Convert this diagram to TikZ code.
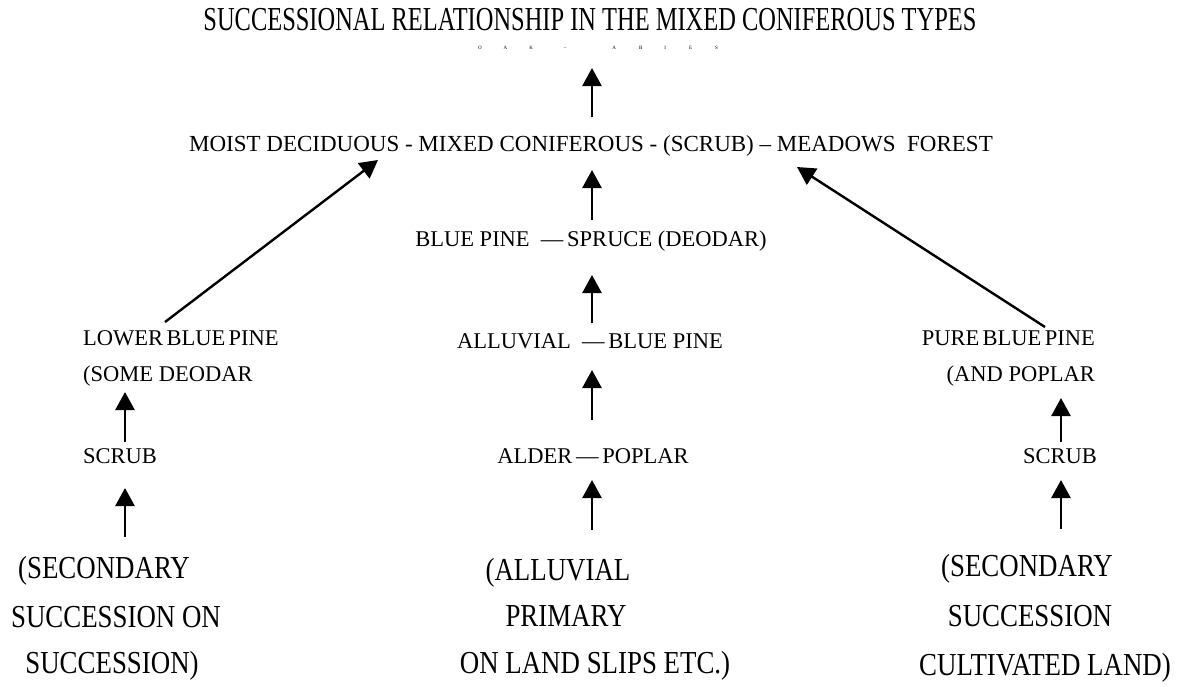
\documentclass[tikz,border=0pt]{standalone}
\usepackage{fontspec}
\setmainfont{Liberation Serif}
\newfontfamily\titlefont[FakeStretch=0.73]{Liberation Serif}
\newfontfamily\bigfont[FakeStretch=0.84]{Liberation Serif}
\usetikzlibrary{arrows.meta,calc}
\tikzset{
  lab/.style={inner sep=0pt, text height=0.66em, text depth=0pt, font=\fontsize{22.5}{24}\selectfont},
  mainlab/.style={lab, font=\fontsize{23}{25}\selectfont},
  big/.style={inner sep=0pt, text height=0.66em, text depth=0pt, font=\bigfont\fontsize{32}{34}\selectfont},
  ttl/.style={inner sep=0pt, text height=0.66em, text depth=0pt, font=\titlefont\fontsize{33.5}{35}\selectfont},
  tinylab/.style={inner sep=0pt, font=\fontsize{5}{6}\selectfont},
  arr/.style={line width=2.6pt, -{Triangle[length=18pt,width=19pt]}},
  darr/.style={line width=2.4pt, -{Triangle[length=18pt,width=19pt]}}
}
\begin{document}
\begin{tikzpicture}[x=1pt,y=-1pt]
\useasboundingbox[fill=white] (0,0) rectangle (1187,686);
% column coordinates
\coordinate (cl) at (125,0);
\coordinate (cc) at (592,0);
\coordinate (cr) at (1061,0);
% title
\node[ttl] (title) at (590,27) {SUCCESSIONAL RELATIONSHIP IN THE MIXED CONIFEROUS TYPES};
\node[tinylab] (sub) at (598,48) {O\hspace{22pt}A\hspace{22pt}K\hspace{31pt}–\hspace{46pt}A\hspace{23pt}B\hspace{22pt}I\hspace{23pt}E\hspace{23pt}S};
% central column
\node[mainlab] (main) at (591,148) {MOIST DECIDUOUS - MIXED CONIFEROUS - (SCRUB) – MEADOWS\ \ FOREST};
\node[lab] (blue) at (591,243) {BLUE PINE\ \ —\,SPRUCE (DEODAR)};
\node[lab] (alluv) at (590,345) {ALLUVIAL\ \ —\,BLUE PINE};
\node[lab] (alder) at (593,460) {ALDER\,—\,POPLAR};
\node[big] (m1) at (558,577) {(ALLUVIAL};
\node[big] (m2) at (566,623) {PRIMARY};
\node[big] (m3) at (595,670) {ON LAND SLIPS ETC.)};
% left column
\node[lab, anchor=west] (lower) at (83,342) {LOWER\hspace{0.15em}BLUE\hspace{0.15em}PINE};
\node[lab, anchor=west] (some) at (83,378) {(SOME DEODAR};
\node[lab, anchor=west] (scrubL) at (83,460) {SCRUB};
\node[big] (l1) at (104,575) {(SECONDARY};
\node[big] (l2) at (116,624) {SUCCESSION ON};
\node[big] (l3) at (112,670) {SUCCESSION)};
% right column
\node[lab, anchor=east] (pure) at (1095,342) {PURE\hspace{0.15em}BLUE\hspace{0.15em}PINE};
\node[lab, anchor=east] (andp) at (1095,378) {(AND POPLAR};
\node[lab, anchor=east] (scrubR) at (1097,460) {SCRUB};
\node[big] (r1) at (1027,573) {(SECONDARY};
\node[big] (r2) at (1030,623) {SUCCESSION};
\node[big] (r3) at (1045,672) {CULTIVATED LAND)};
% central arrows
\draw[arr] ($(main -| cc)+(0,-31)$) -- ($(title -| cc)+(0,41)$);
\draw[arr] ($(blue -| cc)+(0,-23)$) -- ($(main -| cc)+(0,22)$);
\draw[arr] ($(alluv -| cc)+(0,-22)$) -- ($(blue -| cc)+(0,32)$);
\draw[arr] ($(alder -| cc)+(0,-40)$) -- ($(alluv -| cc)+(0,25)$);
\draw[arr] ($(m1 -| cc)+(0,-47)$) -- ($(alder -| cc)+(0,20)$);
% left arrows
\draw[darr] ($(lower.west)+(82,-20)$) -- ($(main)+(-213,12)$);
\draw[arr] ($(scrubL -| cl)+(0,-18)$) -- ($(some -| cl)+(0,14)$);
\draw[arr] ($(l1 -| cl)+(0,-38)$) -- ($(scrubL -| cl)+(0,28)$);
% right arrows
\draw[darr] ($(pure.east)+(-50,-15)$) -- ($(main)+(206,19)$);
\draw[arr] ($(scrubR -| cr)+(0,-18)$) -- ($(andp -| cr)+(0,20)$);
\draw[arr] ($(r1 -| cr)+(0,-44)$) -- ($(scrubR -| cr)+(0,20)$);
\end{tikzpicture}
\end{document}
